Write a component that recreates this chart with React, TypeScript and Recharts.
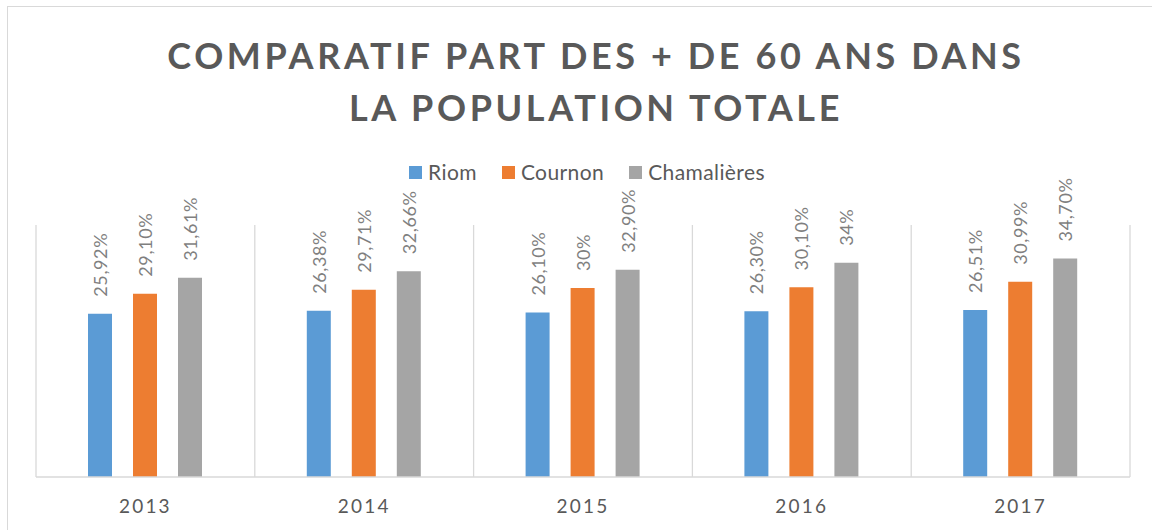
import React from "react";
import { BarChart, Bar, XAxis, YAxis, CartesianGrid, LabelList } from "recharts";

const years = ["2013", "2014", "2015", "2016", "2017"];
const riom = [25.92, 26.38, 26.1, 26.3, 26.51];
const cournon = [29.1, 29.71, 30, 30.1, 30.99];
const chamalieres = [31.61, 32.66, 32.9, 34, 34.7];
const seriesNames = ["Riom", "Cournon", "Chamalières"];
const seriesColors = ["#5b9bd5", "#ed7d31", "#a5a5a5"];
const gridTicks = [0, 1, 2, 3, 4, 5];

const data = years.map((y, i) => ({
  year: y,
  idx: i + 0.5,
  Riom: riom[i],
  Cournon: cournon[i],
  "Chamalières": chamalieres[i],
}));

const FONT = "Lato, 'Open Sans', sans-serif";

const fmt = (v: number) =>
  Number.isInteger(v) ? `${v}%` : `${v.toFixed(2).replace(".", ",")}%`;

const renderLabel = (props: any) => {
  const { x, y, width, value } = props;
  const cx = x + width / 2;
  const ty = y - 17;
  return (
    <text
      x={cx}
      y={ty}
      transform={`rotate(-90 ${cx} ${ty})`}
      textAnchor="start"
      dominantBaseline="central"
      fill="#7f7f7f"
      fontFamily={FONT}
      fontSize={18}
      letterSpacing={0.6}
    >
      {fmt(value)}
    </text>
  );
};

const Tick = (props: any) => {
  const { x, y, payload } = props;
  return (
    <text
      x={x}
      y={y + 28}
      textAnchor="middle"
      fill="#595959"
      fontFamily={FONT}
      fontSize={19}
      letterSpacing={2.2}
    >
      {payload.value}
    </text>
  );
};

const LegendBlock = () => (
  <div
    style={{
      position: "absolute",
      top: 160,
      left: 0,
      width: 1174,
      display: "flex",
      justifyContent: "center",
      alignItems: "center",
      fontFamily: FONT,
      fontSize: 21,
      letterSpacing: 0.4,
      lineHeight: "24px",
      color: "#595959",
    }}
  >
    {seriesNames.map((n, i) => (
      <div key={n} style={{ display: "flex", alignItems: "center", marginRight: i < 2 ? 25 : 0 }}>
        <span style={{ display: "inline-block", width: 13, height: 13, background: seriesColors[i], marginRight: 6 }} />
        <span>{n}</span>
      </div>
    ))}
  </div>
);

export default function App() {
  return (
    <div style={{ position: "absolute", left: 0, top: 0, width: 1152, height: 530, background: "#fff", overflow: "hidden" }}>
      <div
        style={{
          position: "absolute",
          left: 7,
          top: 6,
          width: 1200,
          height: 600,
          border: "1px solid #d9d9d9",
          boxSizing: "border-box",
        }}
      />
      <div
        style={{
          position: "absolute",
          left: 0,
          top: 29,
          width: 1192,
          textAlign: "center",
          fontFamily: FONT,
          fontWeight: 700,
          fontSize: 36,
          lineHeight: "52px",
          letterSpacing: 3.6,
          color: "#595959",
        }}
      >
        COMPARATIF PART DES + DE 60 ANS DANS
        <br />
        LA POPULATION TOTALE
      </div>
      <LegendBlock />
      <div style={{ position: "absolute", left: 0, top: 0 }}>
        <BarChart
          width={1152}
          height={530}
          data={data}
          margin={{ top: 225, right: 22, left: 36, bottom: 23 }}
          barGap={21}
          barSize={24}
        >
          <XAxis xAxisId="grid" type="number" dataKey="idx" domain={[0, 5]} ticks={gridTicks} hide />
          <XAxis
            xAxisId="cat"
            dataKey="year"
            height={30}
            tickLine={false}
            axisLine={{ stroke: "#d9d9d9", strokeWidth: 1.5 }}
            tick={<Tick />}
            interval={0}
          />
          <YAxis domain={[0, 40]} hide />
          <CartesianGrid xAxisId="grid" vertical horizontal={false} stroke="#d9d9d9" strokeWidth={1.3} />
          {seriesNames.map((n, i) => (
            <Bar key={n} xAxisId="cat" dataKey={n} fill={seriesColors[i]} isAnimationActive={false}>
              <LabelList dataKey={n} content={renderLabel} />
            </Bar>
          ))}
        </BarChart>
      </div>
    </div>
  );
}
